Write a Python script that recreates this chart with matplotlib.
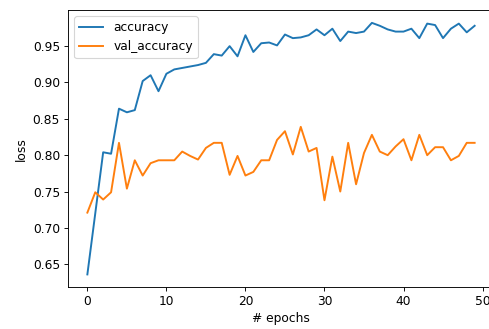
import matplotlib
matplotlib.use("Agg")
import matplotlib.pyplot as plt

epochs = list(range(50))
accuracy = [0.636, 0.720, 0.804, 0.802, 0.864, 0.859, 0.862, 0.902, 0.910, 0.888,
            0.912, 0.918, 0.920, 0.922, 0.924, 0.927, 0.939, 0.937, 0.950, 0.936,
            0.965, 0.942, 0.954, 0.955, 0.951, 0.966, 0.961, 0.962, 0.965, 0.973,
            0.965, 0.974, 0.957, 0.970, 0.968, 0.970, 0.982, 0.978, 0.973, 0.970,
            0.970, 0.974, 0.961, 0.981, 0.979, 0.961, 0.974, 0.981, 0.969, 0.978]
val_accuracy = [0.721, 0.749, 0.739, 0.749, 0.817, 0.754, 0.793, 0.772, 0.789, 0.793,
                0.793, 0.793, 0.805, 0.799, 0.794, 0.810, 0.817, 0.817, 0.773, 0.799,
                0.772, 0.777, 0.793, 0.793, 0.821, 0.833, 0.801, 0.839, 0.805, 0.810,
                0.738, 0.798, 0.750, 0.817, 0.760, 0.803, 0.828, 0.805, 0.800, 0.812,
                0.822, 0.793, 0.828, 0.800, 0.811, 0.811, 0.793, 0.799, 0.817, 0.817]

plt.rcParams['font.size'] = 10.8
dpi = 81.5
fig = plt.figure(figsize=(489 / dpi, 329 / dpi), dpi=dpi)
ax = fig.add_axes([68 / 489, 42 / 329, (494 - 68) / 489, (287 - 10.3) / 329])
ax.plot(epochs, accuracy, label="accuracy", linewidth=1.7)
ax.plot(epochs, val_accuracy, label="val_accuracy", linewidth=1.7)
ax.set_xlabel("# epochs")
ax.set_ylabel("loss")
ax.legend(loc="upper left")
fig.savefig("out.png", dpi=dpi)
